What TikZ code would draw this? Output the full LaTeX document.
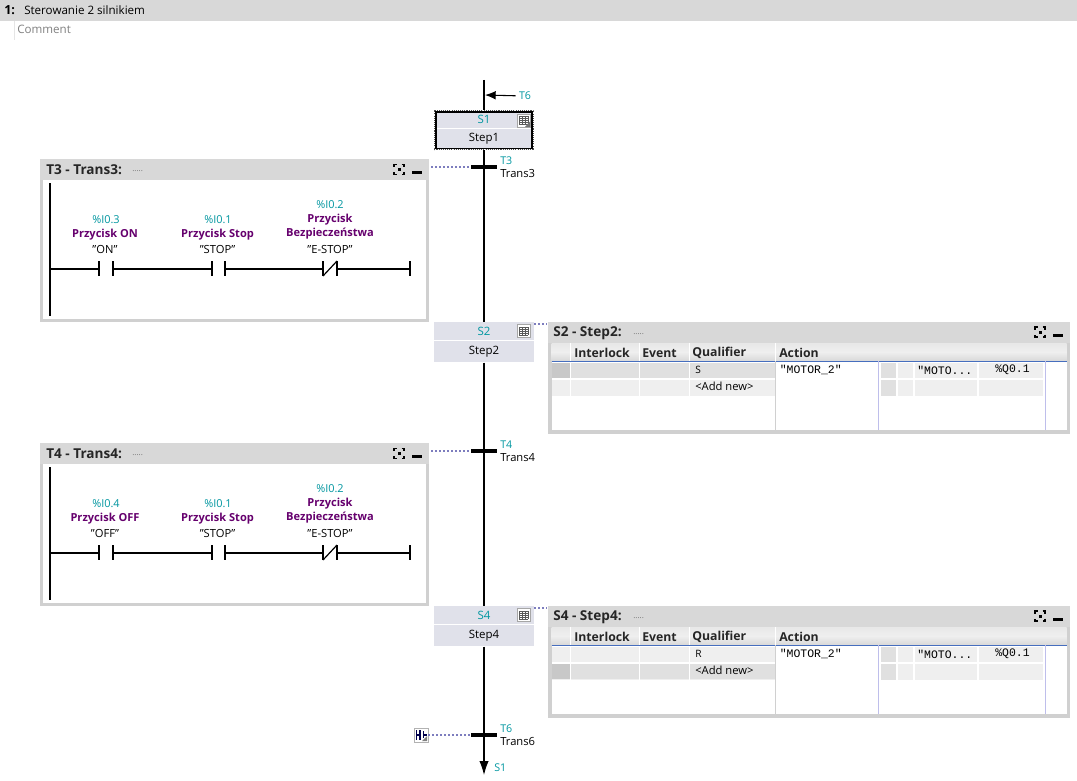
\documentclass[tikz,border=0pt]{standalone}
\usepackage{fontspec}
\setmainfont{Open Sans}
\setmonofont{Liberation Mono}
\usepackage{xcolor}
\usetikzlibrary{arrows.meta, positioning, calc}
\definecolor{myteal}{RGB}{0,150,160}
\definecolor{mypurple}{RGB}{102,0,110}
\definecolor{hdrgray}{RGB}{216,216,216}
\definecolor{rimgray}{RGB}{208,208,208}
\definecolor{stepfill}{RGB}{224,225,234}
\definecolor{dotblue}{RGB}{125,125,190}
\definecolor{cellone}{RGB}{224,224,224}
\definecolor{celltwo}{RGB}{239,239,239}
\definecolor{celldark}{RGB}{200,200,200}
\definecolor{colblue}{RGB}{190,190,235}
\definecolor{rowblue}{RGB}{70,110,190}
\tikzset{
  stepcell/.style={rectangle, fill=stepfill, draw=none, minimum width=75pt, minimum height=13.5pt, inner sep=0pt, text height=6pt, text depth=0pt, font=\fontsize{8.6}{10}\selectfont, text=myteal},
  stepname/.style={stepcell, minimum height=15.75pt, text height=4pt, text=black},
  transbar/.style={rectangle, fill=black, draw=none, minimum width=19.5pt, minimum height=2.4pt, inner sep=0pt},
  wire/.style={line width=0.9pt, color=black},
  rail/.style={line width=1.5pt, color=black},
  dotline/.style={line width=1pt, color=dotblue, dash pattern=on 1.5pt off 1.5pt},
  idlabel/.style={font=\fontsize{8}{9}\selectfont, color=myteal, inner sep=0pt, yshift=-0.6pt},
  namelabel/.style={font=\fontsize{8.4}{9}\selectfont, inner sep=0pt, anchor=west, yshift=-0.6pt},
  addrlabel/.style={font=\fontsize{8.2}{9}\selectfont, color=myteal, inner sep=0pt, yshift=-0.6pt},
  taglabel/.style={font=\fontsize{8.3}{9}\bfseries\selectfont, color=mypurple, inner sep=0pt, yshift=-0.6pt},
  symlabel/.style={font=\fontsize{8.4}{9}\selectfont, inner sep=0pt, yshift=-0.6pt},
  paneltitle/.style={font=\fontsize{10.2}{11}\bfseries\selectfont, inner sep=0pt, anchor=west, color=black!85, yshift=-0.6pt},
  colhead/.style={font=\fontsize{9.2}{11}\bfseries\selectfont, inner sep=0pt, anchor=west, color=black!85},
  celltext/.style={font=\fontsize{8.7}{9}\selectfont, inner sep=0pt, anchor=west},
  monotext/.style={font=\fontsize{8.6}{10}\ttfamily\selectfont, inner sep=0pt, anchor=west},
  dotstext/.style={font=\fontsize{6}{6}\selectfont, color=black!55, inner sep=0pt, anchor=west},
  tableicon/.pic={
    \draw[fill=white, draw=black!35, line width=0.5pt] (-6.5,-6.5) rectangle (6.5,6.5);
    \foreach \k in {-4,-2,0,2,4} \draw[black!65, line width=0.5pt] (-4.5,\k) -- (4.5,\k);
    \foreach \k in {-4.5,-1.5,1.5,4.5} \draw[black!65, line width=0.5pt] (\k,-4) -- (\k,4);
  },
  fiticon/.pic={
    \draw[line width=1pt] (-5,-2.5) -- (-5,-5) -- (-2.5,-5) (2.5,-5) -- (5,-5) -- (5,-2.5) (5,2.5) -- (5,5) -- (2.5,5) (-2.5,5) -- (-5,5) -- (-5,2.5);
    \fill (-1.5,-1.5) rectangle (1.5,1.5);
  }
}
\begin{document}
\begin{tikzpicture}[x=0.75pt, y=-0.75pt]
  \useasboundingbox (0,0) rectangle (1077,781);

  % Network title
  \fill[hdrgray] (0,0) rectangle (1077,21);
  \node[font=\fontsize{9.4}{10}\bfseries\selectfont, inner sep=0pt, anchor=west] (netno) at (4,10) {1:};
  \node[celltext] (nettitle) at (24,10) {Sterowanie 2 silnikiem};
  \draw[black!10, line width=0.6pt] (14.5,21) -- (14.5,40);
  \node[celltext, color=black!50] (netcomment) at (17,29.5) {Comment};

  % Steps
  \node[rectangle, draw=black!70, line width=0.7pt, dash pattern=on 0.8pt off 0.8pt, minimum width=74.5pt, minimum height=29.5pt, inner sep=0pt] (s1sel) at (484,130) {};
  \node[rectangle, draw=black, line width=1.1pt, minimum width=72pt, minimum height=27pt, inner sep=0pt] (s1frame) at (484,130) {};
  \node[stepcell, minimum width=71pt, minimum height=11.3pt, text height=4pt, anchor=north] (s1head) at (484,112.8) {S1};
  \node[stepname, minimum width=71pt, minimum height=13.9pt, text height=5pt, anchor=north] (s1body) at (484,128.8) {Step1};
  \node[stepcell, anchor=north] (s2head) at (484,322) {S2};
  \node[stepname, anchor=north] (s2body) at (484,341) {Step2};
  \node[stepcell, anchor=north] (s4head) at (484,606) {S4};
  \node[stepname, anchor=north] (s4body) at (484,625) {Step4};
  \pic at (523.5,120.5) {tableicon};
  \pic at (523.5,331) {tableicon};
  \pic at (523.5,615) {tableicon};
  \fill[black!55] (525,127) -- (530,121.5) -- (530,127) -- cycle;

  % Transitions
  \node[transbar] (t3) at (484,167) {};
  \node[transbar] (t4) at (484,451) {};
  \node[transbar] (t6) at (484,735) {};
  \node[idlabel, anchor=west] (t3id) at (500,160) {T3};
  \node[namelabel] (t3name) at (500,173) {Trans3};
  \node[idlabel, anchor=west] (t4id) at (500,444) {T4};
  \node[namelabel] (t4name) at (500,457) {Trans4};
  \node[idlabel, anchor=west] (t6id) at (500,728) {T6};
  \node[namelabel] (t6name) at (500,741) {Trans6};

  % Sequence line
  \coordinate (topin) at (484,80);
  \coordinate (botout) at (484,775);
  \coordinate (jumpend) at (485,95);
  \draw[rail] (topin) -- (s1sel.north);
  \draw[rail] (s1sel.south) -- (t3.center) -- (s2head.north);
  \draw[rail] (s2body.south) -- (t4.center) -- (s4head.north);
  \draw[rail] (s4body.south) -- (t6.center) -- (484,760);
  \draw[-{Latex[length=10.5pt,width=7pt]}, line width=0.8pt] (484,750) -- (botout);
  \node[idlabel] (t6in) at (525,95) {T6};
  \draw[-{Latex[length=8pt,width=6.5pt]}, line width=0.8pt] (t6in.west)+(-3,0) -- (jumpend);
  \node[idlabel, anchor=west] (s1out) at (494,767) {S1};

  % Transition panels
  \foreach \yo/\pname/\addr/\tagtxt/\symtxt in {0/3/0.3/Przycisk ON/ON, 284/4/0.4/Przycisk OFF/OFF} {
    \begin{scope}[shift={(0,\yo)}]
      \fill[rimgray] (40,159) rectangle (429,322);
      \fill[hdrgray] (40,159) rectangle (429,180);
      \fill[white] (43,180) rectangle (426,319);
      \pic at (399,169.5) {fiticon};
      \fill[black] (412,171) rectangle (422,174);
      \draw[rail] (50,183) -- (50,316);
      \draw[wire] (50,269) -- (99,269) (99,261) -- (99,276) (113,261) -- (113,276);
      \draw[wire] (113,269) -- (212,269) (212,261) -- (212,276) (225,261) -- (225,276);
      \draw[wire] (225,269) -- (323,269) (323,261) -- (323,276) (337,261) -- (337,276);
      \draw[wire] (323,276) -- (337,261);
      \draw[wire] (337,269) -- (410,269) (410,261) -- (410,276);
      \node[addrlabel] at (106,219) {\%I\addr};
      \node[taglabel] at (105,234) {\tagtxt};
      \node[symlabel] at (105,249) {"\symtxt"};
      \node[addrlabel] at (218,219) {\%I0.1};
      \node[taglabel] at (217.5,234) {Przycisk Stop};
      \node[symlabel] at (217.5,249) {"STOP"};
      \node[addrlabel] at (330,204) {\%I0.2};
      \node[taglabel] at (330,219) {Przycisk};
      \node[taglabel] at (330,233) {Bezpieczeństwa};
      \node[symlabel] at (330,249) {"E-STOP"};
      \node[paneltitle] at (46,169) {T\pname{} - Trans\pname:};
      \node[dotstext] at (132,171) {.....};
      \coordinate (tlink\pname) at (431,167);
    \end{scope}
  }

  % Step panels
  \foreach \yo/\pname/\qual/\dkrow in {0/2/S/0, 284/4/R/17} {
    \begin{scope}[shift={(0,\yo)}]
      \fill[rimgray] (548,322) rectangle (1070,434);
      \fill[hdrgray] (548,322) rectangle (1070,343);
      \fill[white] (551.5,361) rectangle (1066.5,430);
      \shade[top color=hdrgray!60!white, bottom color=hdrgray, middle color=celltwo] (551.5,343) rectangle (1066.5,361);
      \draw[rowblue, line width=0.6pt] (551.5,361.3) -- (1066.5,361.3);
      % Rows on the left
      \fill[celltwo] (551.5,362.5) rectangle (569.5,378);
      \fill[celltwo] (551.5,379.5) rectangle (569.5,396);
      \foreach \xa/\xb in {571/638.5, 640/688.5, 690/775} {
        \fill[celltwo] (\xa,362.5) rectangle (\xb,378);
        \fill[celltwo] (\xa,379.5) rectangle (\xb,396);
        \fill[cellone] (\xa,362.5+\dkrow) rectangle (\xb,378+\dkrow);
      }
      \fill[celldark] (551.5,362.5+\dkrow) rectangle (569.5,378+\dkrow);
      % Rows on the right
      \foreach \xa/\xb/\cc in {881/896/cellone, 898/913/celltwo, 915/977/celltwo, 979/1043/celltwo} {
        \fill[\cc] (\xa,362.5) rectangle (\xb,378);
        \fill[\cc] (\xa,380) rectangle (\xb,395.5);
      }
      \draw[white, line width=0.6pt] (570,343) -- (570,361) (639,343) -- (639,361) (689,343) -- (689,361) (775.5,343) -- (775.5,361);
      \draw[rimgray, line width=0.7pt] (775.5,361) -- (775.5,430);
      \draw[colblue, line width=0.7pt] (878.5,361) -- (878.5,430) (1045,361) -- (1045,430);
      \node[colhead] at (574,353) {Interlock};
      \node[colhead] at (642,353) {Event};
      \node[colhead] at (692,353) {Qualifier};
      \node[colhead] at (779,353) {Action};
      \node[celltext, font=\fontsize{7.6}{9}\selectfont] at (695,369.5) {\qual};
      \node[celltext, font=\fontsize{8.4}{9}\selectfont] at (695,386.5) {<Add new>};
      \node[monotext] at (779.5,370) {"MOTOR\_2"};
      \node[monotext] at (917,370) {"MOTO...};
      \node[monotext] at (995,370) {\%Q0.1};
      \node[paneltitle] at (553,332) {S\pname{} - Step\pname:};
      \node[dotstext] at (633,334) {.....};
      \pic at (1040,332) {fiticon};
      \fill[black] (1053,334) rectangle (1063,337);
      \coordinate (slink\pname) at (547,324);
    \end{scope}
  }

  % Dotted links
  \draw[dotline] (tlink3) -- (t3.west);
  \draw[dotline] (tlink4) -- (t4.west);
  \draw[dotline] ($(s2head.north east)+(0,2)$) -- (slink2);
  \draw[dotline] ($(s4head.north east)+(0,2)$) -- (slink4);
  \node[draw=black!30, fill=white, minimum size=10.5pt, inner sep=0pt, line width=0.5pt] (contacticon) at (421,735) {};
  \fill[black!50] (422,741) -- (427,736) -- (427,741) -- cycle;
  \draw[line width=0.9pt, color=blue!30!black] (416.5,730) -- (416.5,740) (416.5,735) -- (420,735) (420,730) -- (420,740) (423.5,731) -- (423.5,738) (423.5,735) -- (426.5,735);
  \draw[dotline] (contacticon.east) -- (t6.west);
\end{tikzpicture}
\end{document}
